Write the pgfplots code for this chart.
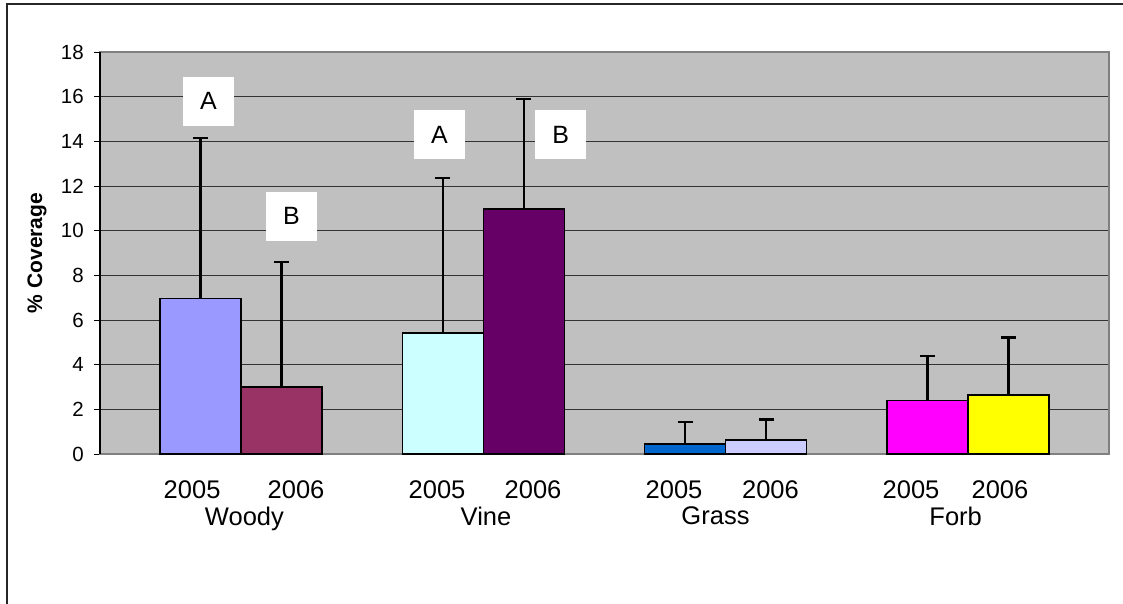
\documentclass[border=0pt]{standalone}
\usepackage{pgfplots}
\pgfplotsset{compat=1.18}
\usepackage{fontspec}
\setmainfont{Liberation Sans}
\definecolor{plotbg}{HTML}{C0C0C0}
\definecolor{cwa}{HTML}{9999FF}
\definecolor{cwb}{HTML}{993366}
\definecolor{cva}{HTML}{CCFFFF}
\definecolor{cvb}{HTML}{660066}
\definecolor{cga}{HTML}{0066CC}
\definecolor{cgb}{HTML}{CCCCFF}
\definecolor{cfa}{HTML}{FF00FF}
\definecolor{cfb}{HTML}{FFFF00}
\begin{document}
\begin{tikzpicture}[x=1bp,y=1bp]
\useasboundingbox (0,0) rectangle (1123,604);
\draw[line width=1.5bp, black!85] (7,-2) -- (7,600) -- (1125,600);
\begin{axis}[
  at={(100bp,150bp)}, anchor=south west, scale only axis,
  width=1009bp, height=402bp,
  xmin=-0.582, xmax=3.582, ymin=0, ymax=18,
  ytick={0,2,...,18},
  axis background/.style={fill=plotbg},
  axis line style={draw=gray, line width=1.5bp},
  ymajorgrids, major grid style={black!80, line width=0.9bp},
  ytick pos=left, tick align=outside,
  major tick length=6bp,
  y tick style={black, line width=0.9bp},
  /pgf/number format/assume math mode=true,
  yticklabel style={font=\fontsize{20.5bp}{24bp}\selectfont, anchor=east, inner sep=0pt, xshift=-10bp},
  xtick={-0.202,0.227,0.809,1.205,1.787,2.185,2.765,3.132},
  xticklabels={2005,2006,2005,2006,2005,2006,2005,2006},
  x tick style={draw=none},
  xticklabel style={font=\fontsize{25.5bp}{30bp}\selectfont, anchor=north, inner sep=0pt, yshift=-21bp},
  extra x ticks={0.014,1.011,1.958,2.949},
  extra x tick labels={Woody,Vine,Grass,Forb},
  extra x tick style={tick style={draw=none}, xticklabel style={yshift=-26bp}, grid=none},
  ybar, bar width=81bp,
  every axis plot/.append style={draw=black, line width=1.5bp},
  eb/.style={error bars/.cd, y dir=plus, y explicit,
    error bar style={line width=2.2bp, black},
    error mark options={rotate=90, mark size=7.5bp, line width=2.2bp, black}},
  clip=false,
]
% 2005 bars
\addplot[fill=cwa, bar shift=-40.5bp, eb] coordinates {(0,6.96) +- (0,7.19)};
\addplot[fill=cva, bar shift=-40.5bp, eb] coordinates {(1,5.42) +- (0,6.95)};
\addplot[fill=cga, bar shift=-40.5bp, eb] coordinates {(2,0.45) +- (0,1.00)};
\addplot[fill=cfa, bar shift=-40.5bp, eb] coordinates {(3,2.39) +- (0,2.00)};
% 2006 bars
\addplot[fill=cwb, bar shift=40.5bp, eb] coordinates {(0,3.01) +- (0,5.60)};
\addplot[fill=cvb, bar shift=40.5bp, eb] coordinates {(1,10.98) +- (0,4.92)};
\addplot[fill=cgb, bar shift=40.5bp, eb] coordinates {(2,0.63) +- (0,0.91)};
\addplot[fill=cfb, bar shift=40.5bp, eb] coordinates {(3,2.64) +- (0,2.58)};
\draw[black, line width=1.2bp] (rel axis cs:0,0) -- (rel axis cs:0,1);
\tikzset{lbl/.style={fill=white, inner sep=0pt, minimum width=51bp, minimum height=49bp, font=\fontsize{25bp}{30bp}\selectfont}}
\node[lbl] at (axis cs:-0.134,15.79) {A};
\node[lbl] at (axis cs:0.208,10.64) {B};
\node[lbl] at (axis cs:0.819,14.29) {A};
\node[lbl] at (axis cs:1.319,14.29) {B};
\end{axis}
\node[rotate=90, font=\bfseries\fontsize{21bp}{24bp}\selectfont] at (37,351) {\% Coverage};
\end{tikzpicture}
\end{document}
